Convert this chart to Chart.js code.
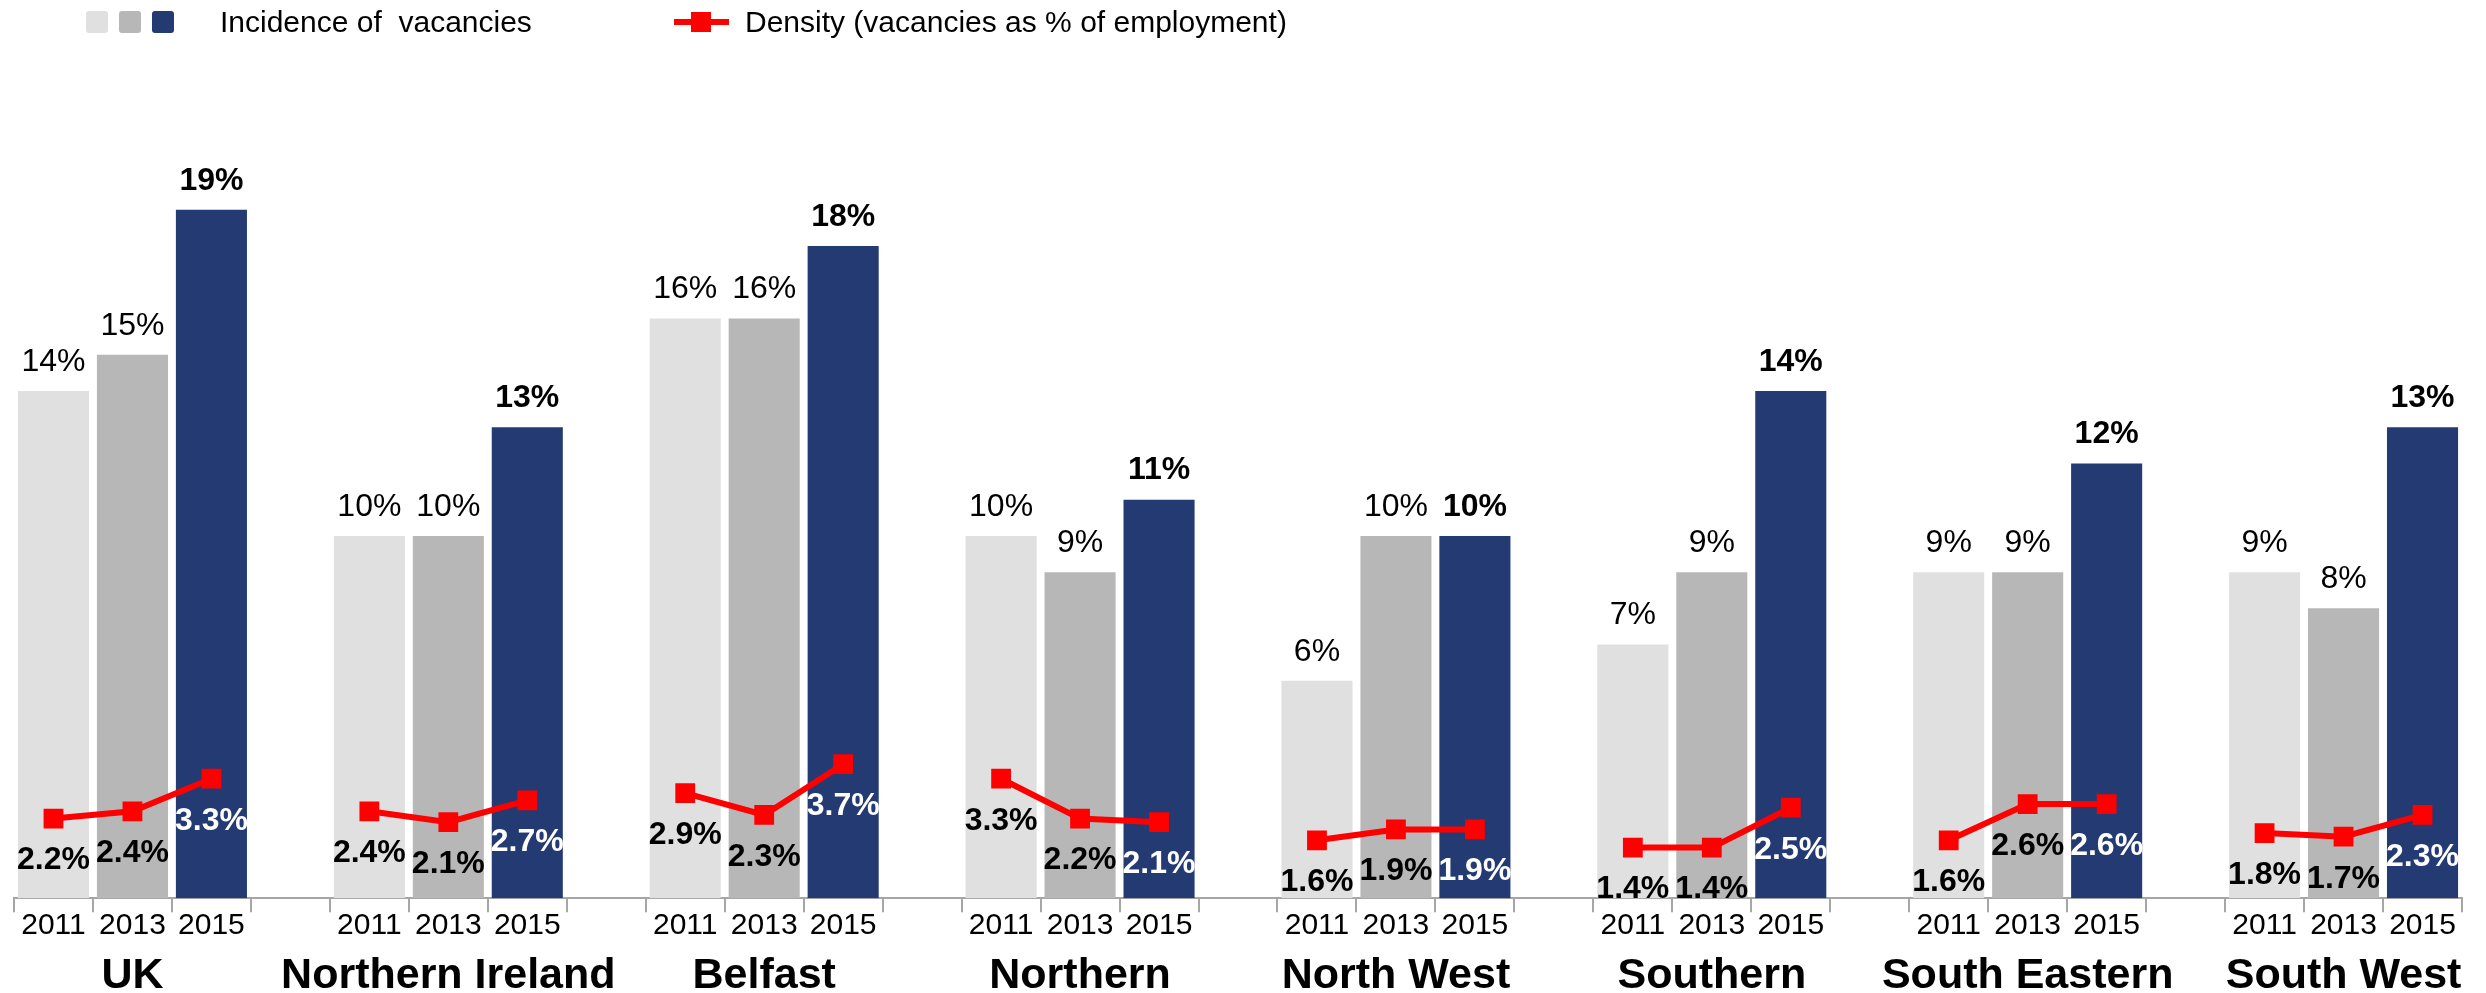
<!DOCTYPE html>
<html>
<head>
<meta charset="utf-8">
<script src="https://cdn.jsdelivr.net/npm/chart.js@4.4.1/dist/chart.umd.min.js"></script>
<style>
  html, body { margin: 0; padding: 0; background: #fff; }
  #wrap { position: relative; width: 2486px; height: 993px; }
  #legend { position: absolute; left: 0; top: 0; width: 1400px; height: 50px;
            font-family: "Liberation Sans", Arial, sans-serif; font-size: 30px; color: #000; }
  #legend span { position: absolute; }
  .box { top: 11px; width: 22px; height: 22px; border-radius: 3px; }
  .txt { top: 5px; white-space: pre; line-height: 34px; }
  .redline { left: 674px; top: 19px; width: 55px; height: 6px; background: #ff0000; }
  .redsq { left: 691px; top: 12px; width: 20px; height: 20px; background: #ff0000; }
</style>
</head>
<body>
<div id="wrap">
  <canvas id="vacChart" width="2486" height="993"></canvas>
  <div id="legend">
    <span class="box" style="left:86px;background:#e0e0e0"></span>
    <span class="box" style="left:119px;background:#b7b7b7"></span>
    <span class="box" style="left:152px;background:#243a73"></span>
    <span class="txt" style="left:220px">Incidence of  vacancies</span>
    <span class="redline"></span>
    <span class="redsq"></span>
    <span class="txt" style="left:745px">Density (vacancies as % of employment)</span>
  </div>
</div>
<script>
const regions = ['UK', 'Northern Ireland', 'Belfast', 'Northern', 'North West', 'Southern', 'South Eastern', 'South West'];
const years = ['2011', '2013', '2015'];

// incidence of vacancies (%)
const incidence2011 = [14, 10, 16, 10, 6, 7, 9, 9];
const incidence2013 = [15, 10, 16, 9, 10, 9, 9, 8];
const incidence2015 = [19, 13, 18, 11, 10, 14, 12, 13];

// density, vacancies as % of employment
const density2011 = [2.2, 2.4, 2.9, 3.3, 1.6, 1.4, 1.6, 1.8];
const density2013 = [2.4, 2.1, 2.3, 2.2, 1.9, 1.4, 2.6, 1.7];
const density2015 = [3.3, 2.7, 3.7, 2.1, 1.9, 2.5, 2.6, 2.3];

const yearColors = ['#e0e0e0', '#b7b7b7', '#243a73'];

// build flat category list: 3 years per region, blank slot between regions
const yearTicks = [];
const regionTicks = [];
const barData = [];
const lineData = [];
const barColors = [];
const yearIndex = [];
const incidence = [incidence2011, incidence2013, incidence2015];
const density = [density2011, density2013, density2015];
regions.forEach((r, g) => {
  years.forEach((y, k) => {
    yearTicks.push(y);
    regionTicks.push(k === 1 ? r : '');
    barData.push(incidence[k][g]);
    lineData.push(density[k][g]);
    barColors.push(yearColors[k]);
    yearIndex.push(k);
  });
  if (g < regions.length - 1) {
    yearTicks.push('');
    regionTicks.push('');
    barData.push(null);
    lineData.push(null);
    barColors.push('#fff');
    yearIndex.push(-1);
  }
});

const FONT = '"Liberation Sans", Arial, sans-serif';

const valueLabels = {
  id: 'valueLabels',
  afterDatasetsDraw(chart) {
    const ctx = chart.ctx;
    const area = chart.chartArea;
    ctx.save();
    ctx.textAlign = 'center';
    ctx.textBaseline = 'middle';
    chart.getDatasetMeta(1).data.forEach((bar, i) => {
      const v = barData[i];
      if (v == null) return;
      ctx.font = (yearIndex[i] === 2 ? 'bold ' : '') + '32px ' + FONT;
      ctx.fillStyle = '#000';
      ctx.fillText(v + '%', bar.x, bar.y - 29);
    });
    ctx.beginPath();
    ctx.rect(area.left, area.top, area.right - area.left, area.bottom - area.top);
    ctx.clip();
    chart.getDatasetMeta(0).data.forEach((pt, i) => {
      const v = lineData[i];
      if (v == null) return;
      ctx.font = 'bold 32px ' + FONT;
      ctx.fillStyle = yearIndex[i] === 2 ? '#fff' : '#000';
      ctx.fillText(v.toFixed(1) + '%', pt.x, pt.y + 42);
    });
    ctx.restore();
  }
};

new Chart(document.getElementById('vacChart'), {
  type: 'bar',
  data: {
    labels: yearTicks,
    datasets: [{
      type: 'line',
      label: 'Density (vacancies as % of employment)',
      data: lineData,
      borderColor: '#ff0000',
      backgroundColor: '#ff0000',
      borderWidth: 6,
      pointStyle: 'rect',
      pointRadius: 14,
      pointBorderWidth: 0,
      spanGaps: false,
      tension: 0,
      order: 0
    }, {
      label: 'Incidence of  vacancies',
      data: barData,
      backgroundColor: barColors,
      barPercentage: 0.9,
      categoryPercentage: 1,
      order: 1
    }]
  },
  options: {
    responsive: false,
    animation: false,
    devicePixelRatio: 1,
    layout: { padding: { left: 14, right: 24, top: 101, bottom: -20 } },
    plugins: {
      legend: { display: false },
      tooltip: { enabled: false }
    },
    scales: {
      x: {
        type: 'category',
        offset: true,
        grid: { display: true, offset: true, drawOnChartArea: false, drawTicks: true,
                tickLength: 14, color: '#a6a6a6', lineWidth: 2 },
        border: { display: true, color: '#a6a6a6', width: 2 },
        ticks: { autoSkip: false, maxRotation: 0, minRotation: 0, padding: -2, color: '#000',
                 font: { family: FONT, size: 30, lineHeight: 1 } }
      },
      x2: {
        type: 'category',
        labels: regionTicks,
        position: 'bottom',
        offset: true,
        grid: { display: false, drawTicks: false },
        border: { display: false },
        ticks: { autoSkip: false, maxRotation: 0, minRotation: 0, padding: 18, color: '#000',
                 font: { family: FONT, size: 43, weight: 'bold', lineHeight: 0.9 } }
      },
      y: { display: false, min: 0, max: 22 }
    }
  },
  plugins: [valueLabels]
});
</script>
</body>
</html>
